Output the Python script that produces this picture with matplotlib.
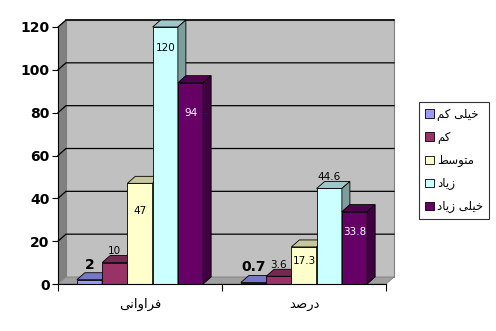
import numpy as np
import matplotlib.pyplot as plt
from matplotlib.patches import Polygon, Rectangle, Patch

# chart data
categories = ['فراوانی', 'درصد']
series_names = ['خیلی کم', 'کم', 'متوسط', 'زیاد', 'خیلی زیاد']
freq = [2, 10, 47, 120, 94]
percent = [0.7, 3.6, 17.3, 44.6, 33.8]
y_ticks = [0, 20, 40, 60, 80, 100, 120]

colors = ['#9999FF', '#993366', '#FFFFCC', '#CCFFFF', '#660066']
label_colors = ['black', 'black', 'black', 'black', 'white']
# vertical offset of each value label from the bar top, in pixels (Excel placement)
label_dy = [[15, 16], [12, 11], [-28, -14], [-21, 11], [-30, -20]]
label_bold = [True, False, False, False, False]

# simple arabic shaping so the persian words come out joined and right-to-left
FORMS = {
    'خ': (0xFEA5, 0xFEA6, 0xFEA7, 0xFEA8), 'ی': (0xFBFC, 0xFBFD, 0xFBFE, 0xFBFF),
    'ل': (0xFEDD, 0xFEDE, 0xFEDF, 0xFEE0), 'ک': (0xFB8E, 0xFB8F, 0xFB90, 0xFB91),
    'م': (0xFEE1, 0xFEE2, 0xFEE3, 0xFEE4), 'ت': (0xFE95, 0xFE96, 0xFE97, 0xFE98),
    'س': (0xFEB1, 0xFEB2, 0xFEB3, 0xFEB4), 'ط': (0xFEC1, 0xFEC2, 0xFEC3, 0xFEC4),
    'ف': (0xFED1, 0xFED2, 0xFED3, 0xFED4), 'ن': (0xFEE5, 0xFEE6, 0xFEE7, 0xFEE8),
    'ص': (0xFEB9, 0xFEBA, 0xFEBB, 0xFEBC),
    'و': (0xFEED, 0xFEEE), 'ز': (0xFEAF, 0xFEB0), 'ا': (0xFE8D, 0xFE8E),
    'د': (0xFEA9, 0xFEAA), 'ر': (0xFEAD, 0xFEAE),
}


def shape(s):
    out = []
    for i, ch in enumerate(s):
        if ch not in FORMS:
            out.append(ch)
            continue
        f = FORMS[ch]
        prev = i > 0 and s[i - 1] in FORMS and len(FORMS[s[i - 1]]) == 4
        nxt = len(f) == 4 and i + 1 < len(s) and s[i + 1] in FORMS
        if prev and nxt:
            k = 3
        elif prev:
            k = 1
        elif nxt:
            k = 2
        else:
            k = 0
        out.append(chr(f[k]))
    return ''.join(out[::-1])


fig = plt.figure(figsize=(4.96, 3.31), dpi=100)
W, H = 496, 331
ax = fig.add_axes([58 / W, 47 / H, 328 / W, 257 / H])
ax.set_xlim(0, 2)
ax.set_ylim(0, 120)
ax.patch.set_visible(False)

# 3d depth offset in data units (8px right, 7px up)
dx = 8 / 164
dy = 7 / (257 / 120)

# walls and floor
ax.add_patch(Rectangle((dx, dy), 2, 120, facecolor='#C0C0C0', edgecolor='#808080',
                       lw=0.8, clip_on=False, zorder=0))
ax.plot([dx, 2 + dx], [120 + dy, 120 + dy], color='#404040', lw=1.2, clip_on=False, zorder=1)
ax.add_patch(Polygon([(0, 0), (0, 120), (dx, 120 + dy), (dx, dy)], closed=True,
                     facecolor='#808080', edgecolor='none', clip_on=False, zorder=0.5))
ax.add_patch(Polygon([(0, 0), (2, 0), (2 + dx, dy), (dx, dy)], closed=True,
                     facecolor='#A0A0A0', edgecolor='#808080', lw=0.6, clip_on=False, zorder=0.5))
for t in y_ticks[1:]:
    ax.plot([0, dx, 2 + dx], [t, t + dy, t + dy], color='black', lw=0.9,
            clip_on=False, zorder=1)


def shade(c, f):
    rgb = np.array(plt.matplotlib.colors.to_rgb(c))
    return tuple(rgb * f)


bw = 0.154
start = (1 - 5 * bw) / 2
series_vals = [list(v) for v in zip(freq, percent)]
for ci in range(len(categories)):
    for j in range(len(series_names)):
        v = series_vals[j][ci]
        x = ci + start + j * bw
        z = 3 + ci * 10 + j
        ax.bar(x, v, width=bw, align='edge', color=colors[j], edgecolor='black',
               lw=0.6, zorder=z, clip_on=False)
        top = [(x, v), (x + bw, v), (x + bw + dx, v + dy), (x + dx, v + dy)]
        side = [(x + bw, 0), (x + bw + dx, dy), (x + bw + dx, v + dy), (x + bw, v)]
        ax.add_patch(Polygon(top, closed=True, facecolor=shade(colors[j], 0.78),
                             edgecolor='black', lw=0.6, zorder=z, clip_on=False))
        ax.add_patch(Polygon(side, closed=True, facecolor=shade(colors[j], 0.62),
                             edgecolor='black', lw=0.6, zorder=z, clip_on=False))
        bold = label_bold[j]
        ax.annotate(f'{v:g}', (x + bw / 2, v), xytext=(0, label_dy[j][ci]),
                    textcoords='offset pixels', ha='center', va='center',
                    fontsize=10 if bold else 7.5, fontweight='bold' if bold else 'normal',
                    color=label_colors[j], zorder=50, annotation_clip=False)

# axes
for s in ['top', 'right']:
    ax.spines[s].set_visible(False)
ax.spines['left'].set_zorder(60)
ax.spines['bottom'].set_zorder(60)
ax.set_yticks(y_ticks)
ax.set_yticklabels([str(t) for t in y_ticks], fontsize=10, fontweight='bold')
ax.tick_params(axis='y', direction='out', length=4, pad=2)
ax.set_xticks([0, 1, 2])
ax.set_xticklabels(['', '', ''])
ax.tick_params(axis='x', which='major', direction='out', length=5)
ax.set_xticks([0.5, 1.5], minor=True)
ax.set_xticklabels([shape(c) for c in categories], minor=True, fontsize=9.5)
ax.tick_params(axis='x', which='minor', length=0, pad=10)

handles = [Patch(facecolor=c, edgecolor='black', lw=0.6) for c in colors]
leg = fig.legend(handles, [shape(n) for n in series_names], loc='upper left',
                 bbox_to_anchor=(419 / W, 1 - 102 / H), fontsize=8.5,
                 frameon=True, fancybox=False, edgecolor='black',
                 handlelength=0.75, handleheight=0.75, handletextpad=0.3,
                 labelspacing=0.85, borderpad=0.5, borderaxespad=0)
leg.get_frame().set_linewidth(0.8)

fig.savefig('out.png', dpi=100)
